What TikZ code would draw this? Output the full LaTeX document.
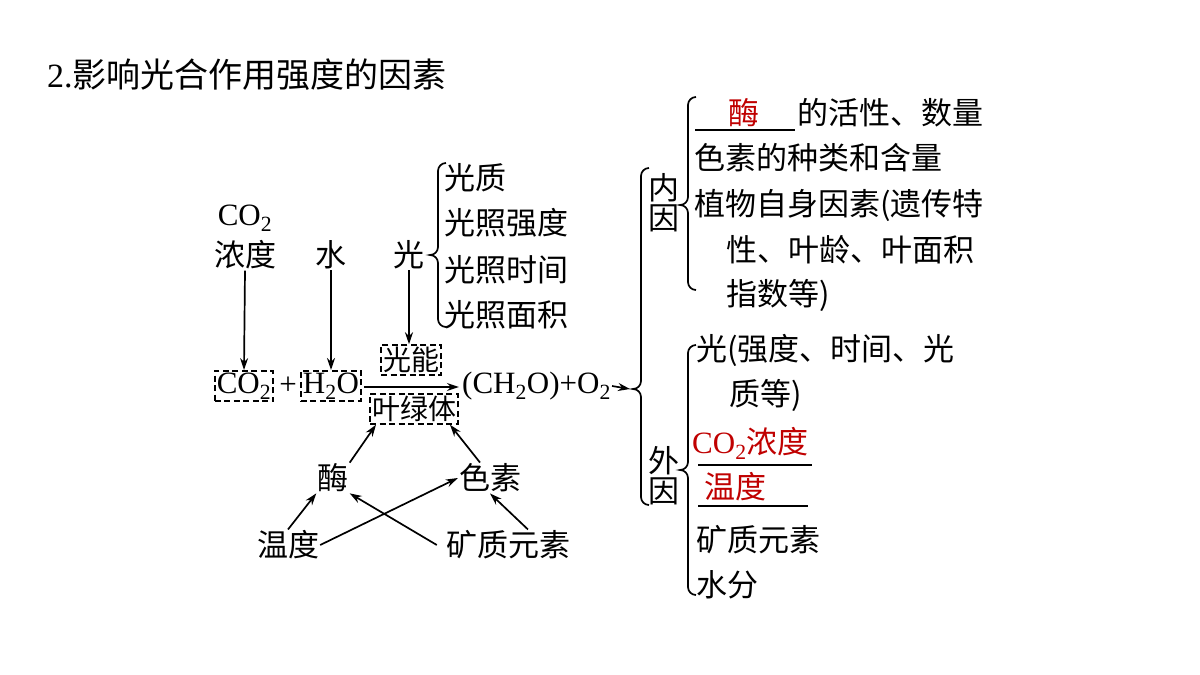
\documentclass[tikz,border=0pt]{standalone}
\usepackage{fontspec}
\setmainfont{Noto Sans CJK SC}
\newfontfamily\lat{Liberation Serif}
\usetikzlibrary{arrows.meta}
\definecolor{ans}{RGB}{192,0,0}
% brace: x, top, tip, bottom
\newcommand\mybrace[4]{\draw[lw] (#1+8,#2) to[out=180,in=90] (#1,#2+8) -- (#1,#3-8) to[out=-90,in=0] (#1-8,#3) to[out=0,in=90] (#1,#3+8) -- (#1,#4-8) to[out=-90,in=180] (#1+8,#4);}
\begin{document}
\begin{tikzpicture}[x=1pt,y=-1pt,
  every node/.style={font=\fontsize{31}{36}\selectfont,inner sep=1pt},
  lw/.style={line width=1.7pt},
  t/.style={anchor=west},
  box/.style={draw,lw,dash pattern=on 6pt off 3.5pt,inner sep=2pt},
  ar/.style={-{Stealth[length=12pt,width=8pt]},lw}]
\useasboundingbox[fill=white] (0,0) rectangle (1200,675);
\node[t,font=\fontsize{34}{40}\selectfont] (title) at (46,75) {{\lat 2.}影响光合作用强度的因素};
% top sources
\node (co2t) at (245,218) {\lat CO\textsubscript{2}};
\node (nd) at (245,255) {浓度};
\node (shui) at (331,255) {水};
\node (guang) at (409,255) {光};
\node[t] (g1) at (443,178) {光质};
\node[t] (g2) at (443,223) {光照强度};
\node[t] (g3) at (443,270) {光照时间};
\node[t] (g4) at (443,315) {光照面积};
\mybrace{438}{163}{255}{327}
% equation
\node[box] (co2) at (244,386) {\lat CO\textsubscript{2}};
\node (plus) at (288,386) {\lat +};
\node[box] (h2o) at (331,386) {\lat H\textsubscript{2}O};
\node[box,font=\fontsize{28}{32}\selectfont] (gn) at (411,360) {光能};
\node[box,font=\fontsize{28}{32}\selectfont] (ylt) at (414,409) {叶绿体};
\node[t] (prod) at (461,386) {\lat (CH\textsubscript{2}O)+O\textsubscript{2}};
\coordinate (aS) at (h2o.east |- 0,387);
\coordinate (aE) at (ylt.east |- 0,387);
\draw[ar] ([xshift=2pt]aS) -- (aE);
\draw[ar] (nd.south) -- (co2.north);
\draw[ar] (shui.south) -- (h2o.north);
\draw[ar] (guang.south) -- (gn.north -| guang.south);
% lower
\node (mei) at (333,478) {酶};
\node (sesu) at (490,478) {色素};
\node (wendu) at (288,545) {温度};
\node (kz) at (508,545) {矿质元素};
\draw[ar] (mei.north east) -- ([xshift=-38pt]ylt.south);
\draw[ar] ([xshift=-10pt]sesu.north) -- ([xshift=36pt]ylt.south);
\draw[ar] (wendu.north) -- (mei.south west);
\draw[ar] (wendu.east) -- (sesu.west);
\draw[ar] ([xshift=-8pt]kz.west) -- (mei.south east);
\draw[ar] ([xshift=20pt]kz.north) -- (sesu.south);
% right side
\coordinate (bigtip) at (630,389);
\draw[ar] (prod.east) -- (bigtip);
\mybrace{641}{168}{389}{505}
\node (nei) at (664,203) {\shortstack{内\\因}};
\node (wai) at (664,476) {\shortstack{外\\因}};
\mybrace{688}{97}{205}{290}
\mybrace{688}{345}{470}{595}
\node[t,text=ans] (meia) at (727,113) {酶};
\draw[lw] (695,130) -- (795,130);
\node[t] (n1) at (796,113) {的活性、数量};
\node[t] (n2) at (693,158) {色素的种类和含量};
\node[t] (n3) at (693,205) {植物自身因素(遗传特};
\node[t] (n4) at (725,250) {性、叶龄、叶面积};
\node[t] (n5) at (725,295) {指数等)};
\node[t] (w1) at (695,350) {光(强度、时间、光};
\node[t] (w2) at (728,395) {质等)};
\node[t,text=ans] (w3) at (691,443) {{\lat CO\textsubscript{2}}浓度};
\draw[lw] (698,465) -- (812,465);
\node[t,text=ans] (w4) at (703,487) {温度};
\draw[lw] (698,506) -- (808,506);
\node[t] (w5) at (695,540) {矿质元素};
\node[t] (w6) at (695,585) {水分};
\end{tikzpicture}
\end{document}
